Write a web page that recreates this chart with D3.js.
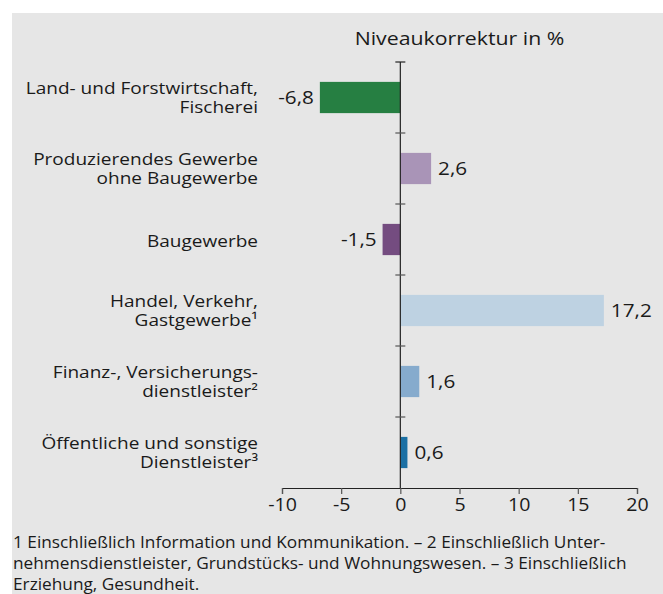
<!DOCTYPE html>
<html>
<head>
<meta charset="utf-8">
<script src="https://cdn.jsdelivr.net/npm/d3@7"></script>
<style>
  body { margin: 0; background: #fff; }
  svg text { font-family: "Open Sans", sans-serif; fill: #1a1a1a; }
</style>
</head>
<body>
<script>
// chart data
const categories = [
  ["Land- und Forstwirtschaft,", "Fischerei"],
  ["Produzierendes Gewerbe", "ohne Baugewerbe"],
  ["Baugewerbe"],
  ["Handel, Verkehr,", "Gastgewerbe¹"],
  ["Finanz-, Versicherungs-", "dienstleister²"],
  ["Öffentliche und sonstige", "Dienstleister³"]
];
const values = [-6.8, 2.6, -1.5, 17.2, 1.6, 0.6];
const labels = ["-6,8", "2,6", "-1,5", "17,2", "1,6", "0,6"];
const colors = ["#267f42", "#a994b7", "#744c80", "#bed2e2", "#86abcd", "#1b70a4"];
const xTicks = [-10, -5, 0, 5, 10, 15, 20];
const footnotes = [
  "1 Einschließlich Information und Kommunikation. – 2 Einschließlich Unter-",
  "nehmensdienstleister, Grundstücks- und Wohnungswesen. – 3 Einschließlich",
  "Erziehung, Gesundheit."
];

const width = 663, height = 594;
const sx = 1.12; // the original lettering runs a bit wide

const svg = d3.select("body").append("svg")
  .attr("width", width).attr("height", height);

// grey panel
svg.append("rect")
  .attr("x", 12).attr("y", 13)
  .attr("width", width - 12).attr("height", height - 13)
  .attr("fill", "#e6e6e6");

const x = d3.scaleLinear().domain([-10, 20]).range([282, 637]);
const y = d3.scaleBand().domain(d3.range(categories.length)).range([62, 488]).paddingInner(0.56).paddingOuter(0.28);
const band = d3.scaleBand().domain(d3.range(categories.length)).range([62, 488]);

function sText(g, tx, ty, str, anchor, size) {
  g.append("text")
    .attr("transform", `translate(${tx},${ty}) scale(${sx},1)`)
    .attr("text-anchor", anchor)
    .attr("font-size", size)
    .text(str);
}

// title
sText(svg, (x(-10) + x(20)) / 2, 45, "Niveaukorrektur in %", "middle", 19);

// bars
svg.append("g").selectAll("rect")
  .data(values)
  .join("rect")
  .attr("x", d => x(Math.min(0, d)))
  .attr("width", d => Math.abs(x(d) - x(0)))
  .attr("y", (d, i) => y(i))
  .attr("height", y.bandwidth())
  .attr("fill", (d, i) => colors[i]);

// value labels
const vl = svg.append("g");
values.forEach((v, i) => {
  const cy = band(i) + band.bandwidth() / 2 + 6;
  if (v < 0) sText(vl, x(v) - 6, cy, labels[i], "end", 18.5);
  else sText(vl, x(v) + 7, cy, labels[i], "start", 18.5);
});

// category labels
const cl = svg.append("g");
categories.forEach((lines, i) => {
  const c = band(i) + band.bandwidth() / 2;
  if (lines.length === 1) {
    sText(cl, 258, c + 7, lines[0], "end", 17);
  } else {
    sText(cl, 258, c - 4, lines[0], "end", 17);
    sText(cl, 258, c + 15, lines[1], "end", 17);
  }
});

// vertical zero axis with category separators
const x0 = x(0);
svg.append("line")
  .attr("x1", x0).attr("x2", x0).attr("y1", 62).attr("y2", 488)
  .attr("stroke", "#222").attr("stroke-width", 1.2);
svg.append("g").selectAll("line")
  .data(d3.range(categories.length))
  .join("line")
  .attr("x1", x0 - 5).attr("x2", x0 + 5)
  .attr("y1", d => band(d)).attr("y2", d => band(d))
  .attr("stroke", (d) => d === 0 ? "#222" : "#555").attr("stroke-width", 1.2);

// x axis
const xAxis = svg.append("g")
  .attr("transform", "translate(0,488)")
  .call(d3.axisBottom(x).tickValues(xTicks).tickSize(6).tickPadding(5).tickFormat(d => String(d)));
xAxis.select(".domain").attr("stroke", "#222").attr("stroke-width", 1.2);
xAxis.selectAll(".tick line").attr("stroke", "#555").attr("stroke-width", 1.2);
xAxis.selectAll(".tick text")
  .attr("font-family", "Open Sans, sans-serif")
  .attr("font-size", 17.5)
  .attr("fill", "#1a1a1a")
  .attr("transform", `scale(${sx},1)`);

// footnotes
const fn = svg.append("g");
footnotes.forEach((t, i) => {
  sText(fn, 13, 548 + i * 21, t, "start", 15.4);
});
</script>
</body>
</html>
